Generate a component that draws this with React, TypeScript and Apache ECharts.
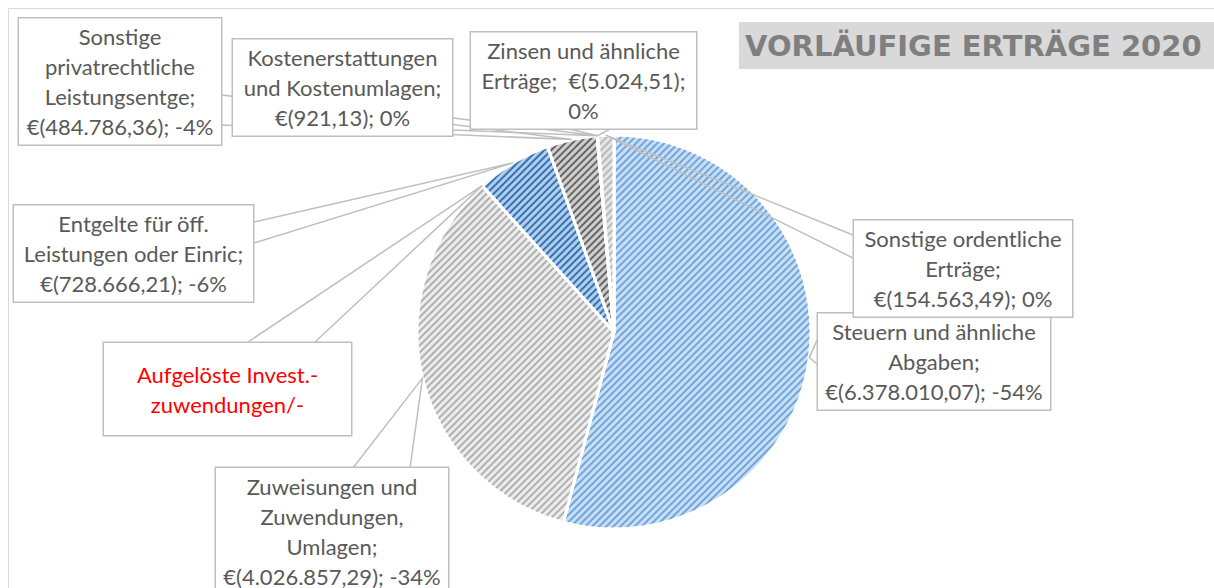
import React, { useEffect, useRef } from "react";
import * as echarts from "echarts";

// ---- data ----
const categories = [
  "Steuern und ähnliche\nAbgaben",
  "Zuweisungen und\nZuwendungen,\nUmlagen",
  "Aufgelöste Invest.-\nzuwendungen/-",
  "Entgelte für öff.\nLeistungen oder Einric",
  "Sonstige\nprivatrechtliche\nLeistungsentge",
  "Kostenerstattungen\nund Kostenumlagen",
  "Zinsen und ähnliche\nErträge",
  "Sonstige ordentliche\nErträge",
];
const values = [6378010.07, 4026857.29, 0, 728666.21, 484786.36, 921.13, 5024.51, 154563.49];
const percentLabels = ["-54%", "-34%", "", "-6%", "-4%", "0%", "0%", "0%"];
const chartTitle = "VORLÄUFIGE ERTRÄGE 2020";

// ---- styles ----
const sliceColors = ["#c9def3", "#ececec", "#d0d0d0", "#b3cdea", "#cfcfcf", "#dddddd", "#dddddd", "#e4e4e4"];
const stripeColors = ["#6fa6dc", "#b0b0b0", "#a8a8a8", "#3274b5", "#666666", "#a8a8a8", "#a8a8a8", "#b8b8b8"];

// label box layout: center, content width, wedge anchors on the box edge
const labelBoxes = [
  { cx: 934, cy: 361.5, w: 224, pad: [3, 4], a: [817, 340], b: [817, 364] },
  { cx: 332, cy: 531, w: 224, pad: [3, 4], a: [353, 468], b: [410, 468] },
  { cx: 227.5, cy: 389, w: 239, pad: [16, 4], a: [248, 342], b: [315, 342] },
  { cx: 133.5, cy: 253.5, w: 231, pad: [3, 4], a: [254, 222], b: [254, 243] },
  { cx: 120, cy: 81.5, w: 194, pad: [3, 4], a: [222, 95], b: [222, 125] },
  { cx: 342.5, cy: 87.5, w: 211, pad: [3, 4], a: [453, 118], b: [453, 130] },
  { cx: 583.5, cy: 80.5, w: 217, pad: [3, 4], a: [565, 128], b: [612, 128] },
  { cx: 963, cy: 268.5, w: 210, pad: [3, 4], a: [853, 235], b: [853, 258] },
];

const PIE_CENTER = [614, 332];
const PIE_RADIUS = 197;

function fmtDE(v: number): string {
  const [i, d] = v.toFixed(2).split(".");
  return i.replace(/\B(?=(\d{3})+(?!\d))/g, ".") + "," + d;
}

function labelText(i: number): string {
  const name = categories[i];
  if (values[i] === 0) return name;
  const money = `€(${fmtDE(values[i])})`;
  if (i === 6) return `${name};  ${money};\n${percentLabels[i]}`;
  return `${name};\n${money}; ${percentLabels[i]}`;
}

export default function App() {
  const ref = useRef<HTMLDivElement>(null);
  useEffect(() => {
    if (!ref.current) return;
    const chart = echarts.init(ref.current, undefined, { renderer: "svg" });
    chart.setOption({
      animation: false,
      backgroundColor: "#ffffff",
      title: {
        text: chartTitle,
        left: 739,
        top: 22,
        padding: [7, 16, 6, 6],
        backgroundColor: "#d9d9d9",
        textStyle: {
          fontFamily: "DejaVu Sans",
          fontWeight: "bold",
          fontSize: 29,
          lineHeight: 34,
          color: "#7f7f7f",
        },
      },
      graphic: [
        {
          type: "rect",
          silent: true,
          shape: { x: 8.5, y: 8.5, width: 1240, height: 620 },
          style: { fill: "none", stroke: "#d9d9d9", lineWidth: 1 },
        },
      ],
      series: [
        {
          // patterned slices
          type: "pie",
          z: 2,
          center: PIE_CENTER,
          radius: PIE_RADIUS,
          startAngle: 90,
          clockwise: true,
          silent: true,
          itemStyle: { borderColor: "#ffffff", borderWidth: 3 },
          label: { show: false },
          labelLine: { show: false },
          data: values.map((v, i) => ({
            value: v,
            name: categories[i],
            itemStyle: {
              color: sliceColors[i],
              decal: {
                symbol: "rect",
                symbolSize: 1,
                color: stripeColors[i],
                dashArrayX: [1, 0],
                dashArrayY: [1.5, 3],
                rotation: -Math.PI / 4,
              },
            },
          })),
        },
        {
          // same slices, transparent, carrying the callout labels above the fills
          type: "pie",
          z: 3,
          center: PIE_CENTER,
          radius: PIE_RADIUS,
          startAngle: 90,
          clockwise: true,
          silent: true,
          avoidLabelOverlap: false,
          itemStyle: { color: "rgba(0,0,0,0)", borderWidth: 0 },
          label: {
            show: true,
            position: "outside",
            fontFamily: "Lato",
            fontSize: 22,
            lineHeight: 30,
            color: "#595959",
            backgroundColor: "#ffffff",
            borderColor: "#bfbfbf",
            borderWidth: 1.5,
            align: "center",
            formatter: (p: any) => labelText(p.dataIndex),
          },
          labelLine: { show: true, showAbove: true, lineStyle: { color: "#bfbfbf", width: 1.5 } },
          labelLayout: (p: any) => {
            const box = labelBoxes[p.dataIndex];
            const pts = p.labelLinePoints;
            const tip = pts && pts[0] ? [pts[0][0], pts[0][1]] : [box.a[0], box.a[1]];
            return {
              x: box.cx,
              y: box.cy,
              align: "center",
              verticalAlign: "middle",
              labelLinePoints: [box.a, tip, box.b],
            };
          },
          data: values.map((v, i) => ({
            value: v,
            name: categories[i],
            label: {
              width: labelBoxes[i].w,
              padding: labelBoxes[i].pad,
              color: i === 2 ? "#ff0000" : "#595959",
            },
          })),
        },
      ],
    });
    return () => chart.dispose();
  }, []);
  return (
    <div
      ref={ref}
      style={{ position: "absolute", left: 0, top: 0, width: 1214, height: 588 }}
    />
  );
}
